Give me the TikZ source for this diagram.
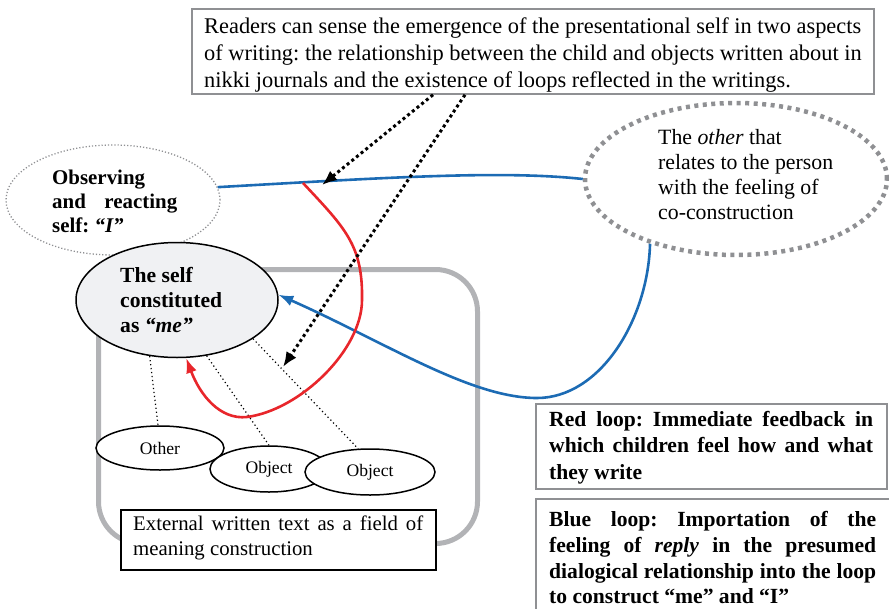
\documentclass[tikz,border=0pt]{standalone}
\usepackage{fontspec}
\setmainfont{Liberation Serif}
\usetikzlibrary{arrows.meta,shapes.geometric,calc}
\definecolor{lblue}{HTML}{1C6BB4}
\definecolor{lred}{HTML}{E8262B}
\definecolor{rgray}{HTML}{B2B3B6}
\definecolor{fgray}{HTML}{8F9093}
\definecolor{mefill}{HTML}{F0F1F3}
\frenchspacing
\begin{document}
\begin{tikzpicture}[x=1pt,y=-1pt,
  frame/.style={draw=fgray, line width=1.8pt, inner sep=0pt, anchor=north west},
  txt/.style={inner sep=0pt, align=left},
  smallell/.style={ellipse, draw=black, line width=1.5pt, fill=white, inner sep=0pt, font=\fontsize{17.6}{20}\selectfont},
  dotarrow/.style={line width=3pt, dash pattern=on 3pt off 3pt, -{Latex[length=15pt,width=12pt]}},
  thindot/.style={line width=1.2pt, dash pattern=on 1.2pt off 2.8pt},
  blueline/.style={draw=lblue, line width=2.6pt},
  redline/.style={draw=lred, line width=2.6pt}
]
\useasboundingbox (0,0) rectangle (889,608);

% field of meaning construction
\node[draw=rgray, line width=5pt, rounded corners=42pt, minimum width=379pt, minimum height=274pt, inner sep=0pt, anchor=north west] (field) at (96,267) {};

% ellipses
\node[ellipse, draw=fgray, line width=1.3pt, dash pattern=on 1.2pt off 2pt, minimum width=214pt, minimum height=110pt, inner sep=0pt] (obs) at (113,200) {};
\node[txt, anchor=west, font=\bfseries\fontsize{20.9}{24}\selectfont] (obstext) at (52,201.5) {Observing\\\makebox[125pt][s]{and reacting}\\self: \textit{“I”}};

\node[ellipse, draw=fgray, line width=4.5pt, dash pattern=on 4pt off 4.5pt, minimum width=302pt, minimum height=152pt, inner sep=0pt] (oth) at (736,179) {};
\node[txt, anchor=west, font=\fontsize{21.8}{25}\selectfont] (othtext) at (658,175) {The \textit{other} that\\relates to the person\\with the feeling of\\co-construction};

\node[ellipse, draw=black, line width=1.5pt, fill=mefill, minimum width=202pt, minimum height=115pt, inner sep=0pt] (me) at (177,300) {};
\node[txt, anchor=west, font=\bfseries\fontsize{21.6}{25}\selectfont] (metext) at (120,299.5) {The self\\constituted\\as \textit{“me”}};

\node[smallell, minimum width=128pt, minimum height=44pt] (other) at (160,448) {Other};
\node[smallell, minimum width=118pt, minimum height=46pt] (obj1) at (269,469) {Object};
\node[smallell, minimum width=130pt, minimum height=46pt] (obj2) at (370,472) {Object};

% boxes
\node[draw=black, line width=1.5pt, fill=white, minimum width=315pt, minimum height=60pt, inner sep=0pt, anchor=north west] (extbox) at (120,509) {};
\node[txt, anchor=north west, font=\fontsize{20.8}{25}\selectfont] (exttext) at (133,515.5) {\makebox[290pt][s]{External written text as a field of}\\meaning construction};

\node[frame, minimum width=682pt, minimum height=85pt] (topbox) at (191,8) {};
\node[txt, anchor=north west, font=\fontsize{22.4}{27}\selectfont] (toptext) at (204,17.5) {Readers can sense the emergence of the presentational self in two aspects\\of writing: the relationship between the child and objects written about in\\nikki journals and the existence of loops reflected in the writings.};

\node[frame, minimum width=351pt, minimum height=85pt] (redbox) at (535,403) {};
\node[txt, anchor=north west, font=\bfseries\fontsize{21.6}{26.5}\selectfont] (redtext) at (549,411) {\makebox[324pt][s]{Red loop: Immediate feedback in}\\\makebox[324pt][s]{which children feel how and what}\\they write};

\node[frame, minimum width=360pt, minimum height=120pt] (bluebox) at (535,498) {};
\node[txt, anchor=north west, font=\bfseries\fontsize{21.6}{25.8}\selectfont] (bluetext) at (549,511) {\makebox[327pt][s]{Blue loop: Importation of the}\\\makebox[327pt][s]{feeling of \textit{reply} in the presumed}\\\makebox[327pt][s]{dialogical relationship into the loop}\\to construct “me” and “I”};

% coordinates
\coordinate (a1s) at ($(topbox.south west)+(242,0)$);
\coordinate (a2s) at ($(topbox.south west)+(274,0)$);
\coordinate (a1e) at (322,185);
\coordinate (a2e) at (283,367);
\coordinate (rs) at (303,183);

% thin dotted links
\draw[thindot] (me.244.6) -- (other.95);
\draw[thindot] (me.-62.6) -- (obj1.north);
\draw[thindot] (me.-27.5) -- (obj2.117);

% blue line and loop
\draw[blueline] (obs.7) .. controls (380,178) and (500,170) .. (oth.west);
\draw[blueline, -{Latex[length=15pt,width=11pt]}] (oth.217.6) .. controls (648,320) and (600,398) .. (537,398) .. controls (470,398) and (385,342) .. (me.3);

% red loop
\draw[redline, -{Latex[length=15pt,width=11pt]}] (rs) .. controls (345,228) and (363,245) .. (362,300) .. controls (362,350) and (300,410) .. (247,417) .. controls (220,420) and (200,395) .. (me.-81);

% dotted arrows from the top box
\draw[dotarrow] (a1s) -- (a1e);
\draw[dotarrow] (a2s) -- (a2e);
\end{tikzpicture}
\end{document}
